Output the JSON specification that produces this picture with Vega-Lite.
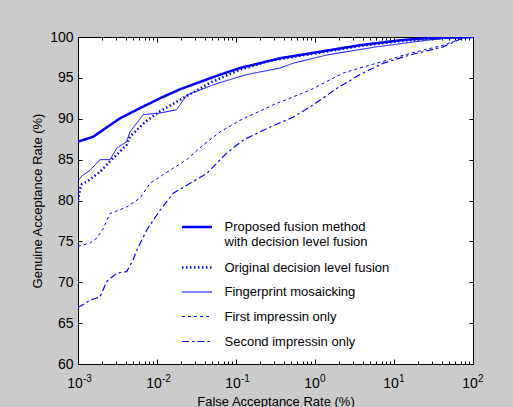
{
  "$schema": "https://vega.github.io/schema/vega-lite/v6.json",
  "width": 395,
  "height": 327,
  "autosize": {"type": "none"},
  "padding": {"left": 78, "top": 37, "right": 40, "bottom": 43},
  "background": "#cbcbcb",
  "config": {
    "view": {"fill": "white", "stroke": "black", "strokeWidth": 1},
    "axis": {"grid": false, "labelFont": "Liberation Sans", "titleFont": "Liberation Sans", "labelColor": "black", "titleColor": "black", "tickColor": "black", "tickWidth": 1, "domain": false, "labelFlush": false, "labelOverlap": false},
    "legend": {"title": null, "orient": "none", "legendX": 110, "legendY": 181, "symbolType": "M-2,0H2", "symbolSize": 225, "labelFontSize": 13, "labelFont": "Liberation Sans", "labelColor": "black", "labelLimit": 400, "rowPadding": 9.5, "labelOffset": 18.5}
  },
  "data": {"values": [
    {"s": "Proposed fusion method", "far": 0.001, "gar": 87.2},
    {"s": "Proposed fusion method", "far": 0.00156, "gar": 87.8},
    {"s": "Proposed fusion method", "far": 0.0022, "gar": 88.8},
    {"s": "Proposed fusion method", "far": 0.0034, "gar": 90.05},
    {"s": "Proposed fusion method", "far": 0.0061, "gar": 91.3},
    {"s": "Proposed fusion method", "far": 0.0109, "gar": 92.5},
    {"s": "Proposed fusion method", "far": 0.0195, "gar": 93.6},
    {"s": "Proposed fusion method", "far": 0.035, "gar": 94.5},
    {"s": "Proposed fusion method", "far": 0.063, "gar": 95.4},
    {"s": "Proposed fusion method", "far": 0.112, "gar": 96.2},
    {"s": "Proposed fusion method", "far": 0.201, "gar": 96.8},
    {"s": "Proposed fusion method", "far": 0.36, "gar": 97.4},
    {"s": "Proposed fusion method", "far": 0.646, "gar": 97.8},
    {"s": "Proposed fusion method", "far": 1.16, "gar": 98.2},
    {"s": "Proposed fusion method", "far": 2.07, "gar": 98.6},
    {"s": "Proposed fusion method", "far": 3.71, "gar": 99.0},
    {"s": "Proposed fusion method", "far": 6.65, "gar": 99.3},
    {"s": "Proposed fusion method", "far": 11.9, "gar": 99.6},
    {"s": "Proposed fusion method", "far": 21.3, "gar": 99.8},
    {"s": "Proposed fusion method", "far": 41.7, "gar": 99.9},
    {"s": "Proposed fusion method", "far": 100, "gar": 100},

    {"s": "Original decision level fusion", "far": 0.001, "gar": 80.0},
    {"s": "Original decision level fusion", "far": 0.00106, "gar": 81.4},
    {"s": "Original decision level fusion", "far": 0.00112, "gar": 82.0},
    {"s": "Original decision level fusion", "far": 0.00129, "gar": 82.3},
    {"s": "Original decision level fusion", "far": 0.0019, "gar": 83.5},
    {"s": "Original decision level fusion", "far": 0.00254, "gar": 84.8},
    {"s": "Original decision level fusion", "far": 0.0034, "gar": 86.0},
    {"s": "Original decision level fusion", "far": 0.00413, "gar": 86.8},
    {"s": "Original decision level fusion", "far": 0.00455, "gar": 87.8},
    {"s": "Original decision level fusion", "far": 0.00705, "gar": 89.6},
    {"s": "Original decision level fusion", "far": 0.0109, "gar": 90.9},
    {"s": "Original decision level fusion", "far": 0.0195, "gar": 92.3},
    {"s": "Original decision level fusion", "far": 0.0469, "gar": 94.4},
    {"s": "Original decision level fusion", "far": 0.112, "gar": 96.0},
    {"s": "Original decision level fusion", "far": 0.269, "gar": 97.1},
    {"s": "Original decision level fusion", "far": 0.646, "gar": 97.7},
    {"s": "Original decision level fusion", "far": 1.16, "gar": 98.1},
    {"s": "Original decision level fusion", "far": 3.71, "gar": 98.9},
    {"s": "Original decision level fusion", "far": 11.9, "gar": 99.5},
    {"s": "Original decision level fusion", "far": 41.7, "gar": 99.9},
    {"s": "Original decision level fusion", "far": 100, "gar": 100},

    {"s": "Fingerprint mosaicking", "far": 0.001, "gar": 82.4},
    {"s": "Fingerprint mosaicking", "far": 0.00112, "gar": 83.0},
    {"s": "Fingerprint mosaicking", "far": 0.00142, "gar": 83.7},
    {"s": "Fingerprint mosaicking", "far": 0.0019, "gar": 85.0},
    {"s": "Fingerprint mosaicking", "far": 0.00254, "gar": 85.0},
    {"s": "Fingerprint mosaicking", "far": 0.00309, "gar": 86.4},
    {"s": "Fingerprint mosaicking", "far": 0.00413, "gar": 87.2},
    {"s": "Fingerprint mosaicking", "far": 0.00455, "gar": 88.4},
    {"s": "Fingerprint mosaicking", "far": 0.00671, "gar": 90.5},
    {"s": "Fingerprint mosaicking", "far": 0.0109, "gar": 90.7},
    {"s": "Fingerprint mosaicking", "far": 0.0177, "gar": 91.1},
    {"s": "Fingerprint mosaicking", "far": 0.0238, "gar": 92.9},
    {"s": "Fingerprint mosaicking", "far": 0.057, "gar": 94.3},
    {"s": "Fingerprint mosaicking", "far": 0.136, "gar": 95.4},
    {"s": "Fingerprint mosaicking", "far": 0.36, "gar": 96.2},
    {"s": "Fingerprint mosaicking", "far": 0.531, "gar": 96.8},
    {"s": "Fingerprint mosaicking", "far": 1.41, "gar": 97.8},
    {"s": "Fingerprint mosaicking", "far": 6.04, "gar": 98.8},
    {"s": "Fingerprint mosaicking", "far": 25.9, "gar": 99.6},
    {"s": "Fingerprint mosaicking", "far": 68.4, "gar": 100},
    {"s": "Fingerprint mosaicking", "far": 100, "gar": 100},

    {"s": "First impressin only", "far": 0.001, "gar": 74.4},
    {"s": "First impressin only", "far": 0.00142, "gar": 74.8},
    {"s": "First impressin only", "far": 0.00173, "gar": 75.4},
    {"s": "First impressin only", "far": 0.00207, "gar": 76.5},
    {"s": "First impressin only", "far": 0.00254, "gar": 78.4},
    {"s": "First impressin only", "far": 0.00413, "gar": 79.2},
    {"s": "First impressin only", "far": 0.0061, "gar": 80.3},
    {"s": "First impressin only", "far": 0.00815, "gar": 82.1},
    {"s": "First impressin only", "far": 0.0146, "gar": 83.7},
    {"s": "First impressin only", "far": 0.0238, "gar": 85.0},
    {"s": "First impressin only", "far": 0.0386, "gar": 86.8},
    {"s": "First impressin only", "far": 0.063, "gar": 88.4},
    {"s": "First impressin only", "far": 0.112, "gar": 89.8},
    {"s": "First impressin only", "far": 0.296, "gar": 91.7},
    {"s": "First impressin only", "far": 0.865, "gar": 93.5},
    {"s": "First impressin only", "far": 2.28, "gar": 95.6},
    {"s": "First impressin only", "far": 6.04, "gar": 96.8},
    {"s": "First impressin only", "far": 16.0, "gar": 98.0},
    {"s": "First impressin only", "far": 42.1, "gar": 99.0},
    {"s": "First impressin only", "far": 83.2, "gar": 100},
    {"s": "First impressin only", "far": 100, "gar": 100},

    {"s": "Second impressin only", "far": 0.001, "gar": 66.9},
    {"s": "Second impressin only", "far": 0.00142, "gar": 67.8},
    {"s": "Second impressin only", "far": 0.0019, "gar": 68.2},
    {"s": "Second impressin only", "far": 0.00231, "gar": 70.1},
    {"s": "Second impressin only", "far": 0.00309, "gar": 71.1},
    {"s": "Second impressin only", "far": 0.00413, "gar": 71.3},
    {"s": "Second impressin only", "far": 0.00497, "gar": 72.7},
    {"s": "Second impressin only", "far": 0.00553, "gar": 73.9},
    {"s": "Second impressin only", "far": 0.00741, "gar": 76.4},
    {"s": "Second impressin only", "far": 0.0109, "gar": 78.8},
    {"s": "Second impressin only", "far": 0.0161, "gar": 80.9},
    {"s": "Second impressin only", "far": 0.0262, "gar": 82.1},
    {"s": "Second impressin only", "far": 0.0426, "gar": 83.3},
    {"s": "Second impressin only", "far": 0.0762, "gar": 85.8},
    {"s": "Second impressin only", "far": 0.124, "gar": 87.4},
    {"s": "Second impressin only", "far": 0.245, "gar": 88.8},
    {"s": "Second impressin only", "far": 0.531, "gar": 90.2},
    {"s": "Second impressin only", "far": 0.95, "gar": 91.7},
    {"s": "Second impressin only", "far": 1.88, "gar": 93.7},
    {"s": "Second impressin only", "far": 3.71, "gar": 95.4},
    {"s": "Second impressin only", "far": 7.33, "gar": 96.8},
    {"s": "Second impressin only", "far": 16.0, "gar": 97.8},
    {"s": "Second impressin only", "far": 42.1, "gar": 98.8},
    {"s": "Second impressin only", "far": 74.6, "gar": 99.9},
    {"s": "Second impressin only", "far": 100, "gar": 100}
  ]},
  "resolve": {"axis": {"x": "independent", "y": "independent"}},
  "layer": [
    {
      "mark": {"type": "line", "clip": true},
      "encoding": {
        "x": {"field": "far", "type": "quantitative", "scale": {"type": "log", "domain": [0.001, 100], "nice": false},
          "axis": {"orient": "bottom", "values": [0.001, 0.01, 0.1, 1, 10, 100], "labelExpr": "'10'", "ticks": false, "tickSize": 0, "labelFontSize": 14, "labelPadding": 12, "labelOffset": -3.5, "title": "False Acceptance Rate (%)", "titleFontSize": 13, "titleFontWeight": "normal", "titlePadding": 5}},
        "y": {"field": "gar", "type": "quantitative", "scale": {"domain": [60, 100], "nice": false, "zero": false},
          "axis": {"orient": "left", "values": [60, 65, 70, 75, 80, 85, 90, 95, 100], "ticks": false, "tickSize": 0, "labelFontSize": 14, "labelPadding": 5, "title": "Genuine Acceptance Rate (%)", "titleFontSize": 13, "titleFontWeight": "normal", "titlePadding": 5}},
        "color": {"field": "s", "type": "nominal", "scale": {"domain": ["Proposed fusion method", "Original decision level fusion", "Fingerprint mosaicking", "First impressin only", "Second impressin only"], "range": ["#0000ff", "#0000ff", "#0000ff", "#0000ff", "#0000ff"]},
          "legend": {"labelExpr": "datum.label == 'Proposed fusion method' ? ['Proposed fusion method', ' with decision level fusion'] : datum.label"}},
        "strokeDash": {"field": "s", "type": "nominal", "scale": {"domain": ["Proposed fusion method", "Original decision level fusion", "Fingerprint mosaicking", "First impressin only", "Second impressin only"], "range": [[1, 0], [1.5, 2.5], [1, 0], [3, 3], [7, 3, 2.5, 3]]},
          "legend": {"labelExpr": "datum.label == 'Proposed fusion method' ? ['Proposed fusion method', ' with decision level fusion'] : datum.label"}},
        "strokeWidth": {"field": "s", "type": "nominal", "scale": {"type": "ordinal", "domain": ["Proposed fusion method", "Original decision level fusion", "Fingerprint mosaicking", "First impressin only", "Second impressin only"], "range": [2.5, 2.5, 1, 1, 1.2]},
          "legend": {"labelExpr": "datum.label == 'Proposed fusion method' ? ['Proposed fusion method', ' with decision level fusion'] : datum.label"}}
      }
    },
    {
      "mark": {"type": "line", "opacity": 0},
      "encoding": {
        "x": {"field": "far", "type": "quantitative", "axis": {"orient": "bottom", "values": [0.001, 0.01, 0.1, 1, 10, 100], "labelExpr": "round(log(datum.value)/LN10) + ''", "ticks": false, "tickSize": 0, "labelFontSize": 10, "labelPadding": 9, "labelAlign": "left", "labelOffset": 4.5, "title": null}},
        "y": {"field": "gar", "type": "quantitative", "axis": {"orient": "right", "values": [60, 65, 70, 75, 80, 85, 90, 95, 100], "labels": false, "tickSize": 4, "offset": -4, "title": null}},
        "detail": {"field": "s"}
      }
    },
    {
      "mark": {"type": "line", "opacity": 0},
      "encoding": {
        "x": {"field": "far", "type": "quantitative", "axis": {"orient": "bottom", "values": [0.001, 0.01, 0.1, 1, 10, 100], "labels": false, "tickSize": 5, "offset": -5, "title": null}},
        "y": {"field": "gar", "type": "quantitative", "axis": {"orient": "left", "values": [60, 65, 70, 75, 80, 85, 90, 95, 100], "labels": false, "tickSize": 4, "offset": -4, "title": null}},
        "detail": {"field": "s"}
      }
    },
    {
      "mark": {"type": "line", "opacity": 0},
      "encoding": {
        "x": {"field": "far", "type": "quantitative", "axis": {"orient": "bottom", "values": [0.002, 0.003, 0.004, 0.005, 0.006, 0.007, 0.008, 0.009, 0.02, 0.03, 0.04, 0.05, 0.06, 0.07, 0.08, 0.09, 0.2, 0.3, 0.4, 0.5, 0.6, 0.7, 0.8, 0.9, 2, 3, 4, 5, 6, 7, 8, 9, 20, 30, 40, 50, 60, 70, 80, 90], "labels": false, "tickSize": 3, "offset": -3, "title": null}},
        "y": {"field": "gar", "type": "quantitative", "axis": null},
        "detail": {"field": "s"}
      }
    },
    {
      "mark": {"type": "line", "opacity": 0},
      "encoding": {
        "x": {"field": "far", "type": "quantitative", "axis": {"orient": "top", "values": [0.001, 0.01, 0.1, 1, 10, 100], "labels": false, "tickSize": 5, "offset": -5, "title": null}},
        "y": {"field": "gar", "type": "quantitative", "axis": null},
        "detail": {"field": "s"}
      }
    },
    {
      "mark": {"type": "line", "opacity": 0},
      "encoding": {
        "x": {"field": "far", "type": "quantitative", "axis": {"orient": "top", "values": [0.002, 0.003, 0.004, 0.005, 0.006, 0.007, 0.008, 0.009, 0.02, 0.03, 0.04, 0.05, 0.06, 0.07, 0.08, 0.09, 0.2, 0.3, 0.4, 0.5, 0.6, 0.7, 0.8, 0.9, 2, 3, 4, 5, 6, 7, 8, 9, 20, 30, 40, 50, 60, 70, 80, 90], "labels": false, "tickSize": 3, "offset": -3, "title": null}},
        "y": {"field": "gar", "type": "quantitative", "axis": null},
        "detail": {"field": "s"}
      }
    }
  ]
}
